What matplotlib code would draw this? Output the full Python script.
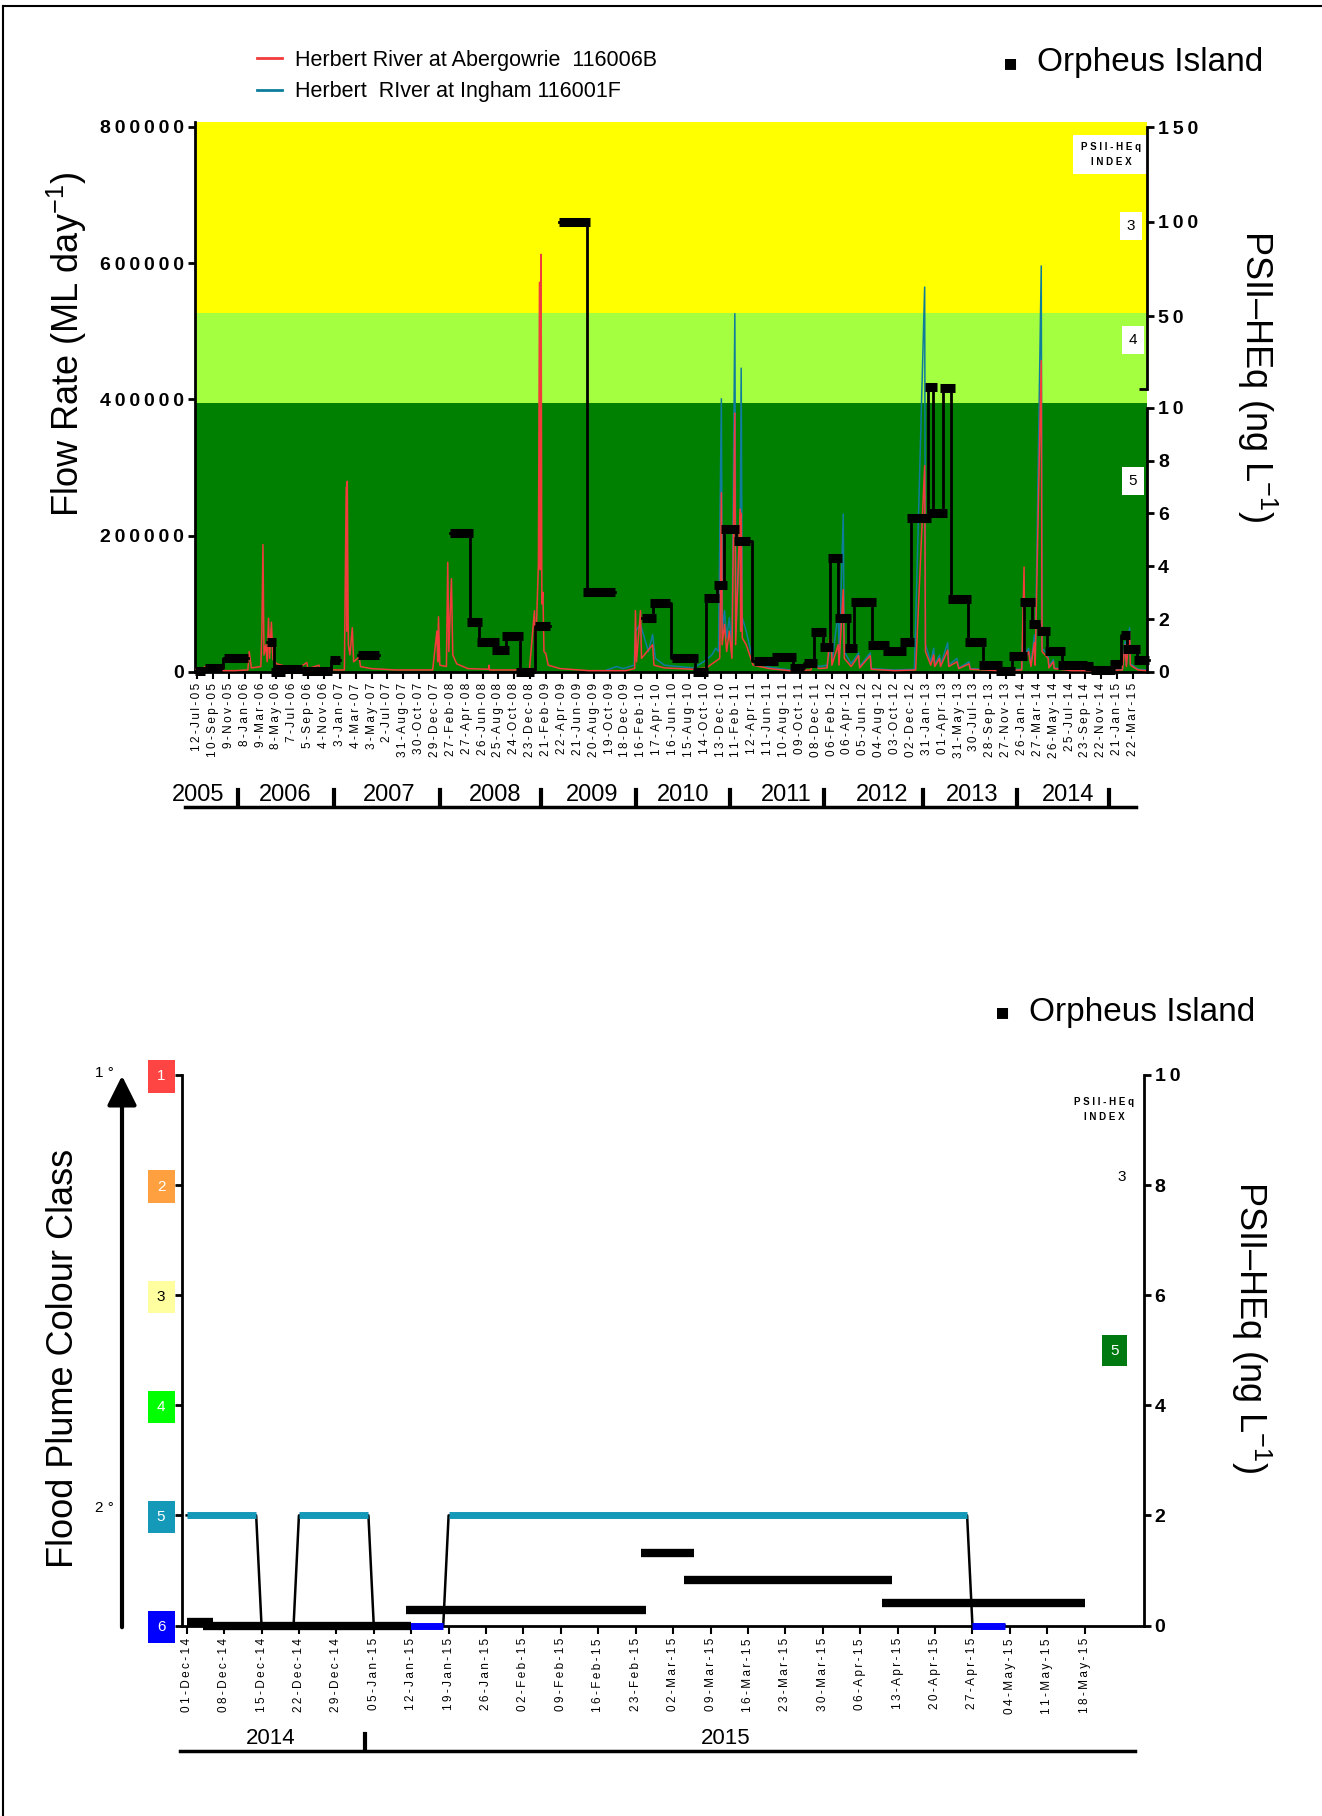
import numpy as np
import pandas as pd
import matplotlib
matplotlib.use("Agg")
import matplotlib.pyplot as plt
from matplotlib.lines import Line2D
from matplotlib.patches import FancyArrowPatch

plt.rcParams['font.family'] = ['Liberation Sans', 'DejaVu Sans']
plt.rcParams['mathtext.fontset'] = 'custom'
plt.rcParams['mathtext.rm'] = 'Liberation Sans'
plt.rcParams['mathtext.it'] = 'Liberation Sans:italic'
plt.rcParams['mathtext.bf'] = 'Liberation Sans:bold'

# ---------------- top chart data ----------------
top_ticks = ["12-Jul-05", "10-Sep-05", "9-Nov-05", "8-Jan-06", "9-Mar-06", "8-May-06",
             "7-Jul-06", "5-Sep-06", "4-Nov-06", "3-Jan-07", "4-Mar-07", "3-May-07",
             "2-Jul-07", "31-Aug-07", "30-Oct-07", "29-Dec-07", "27-Feb-08", "27-Apr-08",
             "26-Jun-08", "25-Aug-08", "24-Oct-08", "23-Dec-08", "21-Feb-09", "22-Apr-09",
             "21-Jun-09", "20-Aug-09", "19-Oct-09", "18-Dec-09", "16-Feb-10", "17-Apr-10",
             "16-Jun-10", "15-Aug-10", "14-Oct-10", "13-Dec-10", "11-Feb-11", "12-Apr-11",
             "11-Jun-11", "10-Aug-11", "09-Oct-11", "08-Dec-11", "06-Feb-12", "06-Apr-12",
             "05-Jun-12", "04-Aug-12", "03-Oct-12", "02-Dec-12", "31-Jan-13", "01-Apr-13",
             "31-May-13", "30-Jul-13", "28-Sep-13", "27-Nov-13", "26-Jan-14", "27-Mar-14",
             "26-May-14", "25-Jul-14", "23-Sep-14", "22-Nov-14", "21-Jan-15", "22-Mar-15"]

# Herbert River at Abergowrie (ML/day)
red_dates = ["2005-07-05", "2005-08-01", "2005-08-10", "2005-08-20", "2005-10-15", "2005-12-01",
             "2006-01-20", "2006-01-25", "2006-02-02", "2006-03-10", "2006-03-14", "2006-03-18",
             "2006-03-22", "2006-03-29", "2006-04-03", "2006-04-08", "2006-04-12", "2006-04-19",
             "2006-04-25", "2006-05-10", "2006-06-15", "2006-08-01", "2006-08-31", "2006-09-04",
             "2006-10-16", "2006-10-20", "2006-12-20", "2007-01-20", "2007-01-27", "2007-01-29",
             "2007-01-31", "2007-02-04", "2007-02-10", "2007-02-19", "2007-02-24", "2007-03-17",
             "2007-03-22", "2007-05-01", "2007-08-01", "2007-12-20", "2008-01-05", "2008-01-08",
             "2008-01-11", "2008-01-16", "2008-02-10", "2008-02-15", "2008-02-19", "2008-02-29",
             "2008-03-05", "2008-03-20", "2008-05-01", "2008-07-18", "2008-07-20", "2008-07-22",
             "2008-12-20", "2009-01-08", "2009-01-12", "2009-01-23", "2009-01-27", "2009-01-30",
             "2009-02-02", "2009-02-05", "2009-02-09", "2009-02-13", "2009-02-20", "2009-03-01",
             "2009-04-15", "2009-08-01", "2009-12-20", "2010-01-22", "2010-01-25", "2010-01-29",
             "2010-02-13", "2010-02-17", "2010-03-31", "2010-04-05", "2010-05-15", "2010-09-01",
             "2010-10-20", "2010-12-10", "2010-12-16", "2010-12-19", "2010-12-28", "2011-01-05",
             "2011-01-15", "2011-01-25", "2011-02-05", "2011-02-08", "2011-02-25", "2011-02-27",
             "2011-03-01", "2011-03-05", "2011-03-20", "2011-04-15", "2011-06-15", "2011-09-01",
             "2011-11-20", "2011-11-25", "2011-12-20", "2012-01-20", "2012-02-04", "2012-02-07",
             "2012-03-02", "2012-03-05", "2012-03-21", "2012-03-25", "2012-04-20", "2012-05-18",
             "2012-05-22", "2012-07-01", "2012-07-05", "2012-10-01", "2012-12-20", "2013-01-23",
             "2013-01-26", "2013-02-15", "2013-02-26", "2013-03-02", "2013-03-20", "2013-03-24",
             "2013-04-20", "2013-04-24", "2013-05-25", "2013-06-01", "2013-07-10", "2013-07-14",
             "2013-11-01", "2014-01-25", "2014-02-03", "2014-02-06", "2014-02-20", "2014-03-01",
             "2014-03-14", "2014-03-17", "2014-04-09", "2014-04-12", "2014-05-05", "2014-05-08",
             "2014-05-25", "2014-05-28", "2014-08-01", "2014-12-01", "2015-02-10", "2015-02-20",
             "2015-02-25", "2015-03-09", "2015-03-12", "2015-04-10", "2015-05-14"]
red_flow = [4000, 3000, 8000, 3000, 2000, 2000,
            3000, 30000, 6000, 8000, 60000, 187000,
            25000, 40000, 15000, 79000, 20000, 73000,
            18000, 12000, 8000, 6000, 14000, 5000,
            10000, 4000, 3000, 3000, 271000, 60000,
            280000, 40000, 25000, 65000, 15000, 22000,
            8000, 5000, 3000, 3000, 60000, 15000,
            81000, 10000, 8000, 161000, 30000, 137000,
            25000, 12000, 5000, 4000, 10000, 3000,
            3000, 90000, 20000, 160000, 572000, 150000,
            613000, 100000, 117000, 30000, 27000, 10000,
            5000, 2000, 2000, 5000, 90000, 15000,
            90000, 20000, 40000, 10000, 6000, 4000,
            6000, 20000, 263000, 40000, 70000, 30000,
            60000, 20000, 380000, 40000, 239000, 60000,
            233000, 50000, 40000, 10000, 5000, 2000,
            3000, 12000, 5000, 6000, 73000, 10000,
            40000, 10000, 121000, 20000, 8000, 24000,
            6000, 24000, 4000, 2000, 3000, 303000,
            30000, 10000, 25000, 8000, 20000, 8000,
            32000, 8000, 15000, 5000, 12000, 4000,
            2000, 3000, 154000, 20000, 30000, 8000,
            43000, 10000, 457000, 30000, 20000, 6000,
            15000, 5000, 2000, 2000, 3000, 40000,
            8000, 59000, 10000, 3000, 2000]

# Herbert River at Ingham (ML/day)
blue_dates = ["2009-10-09", "2009-11-15", "2009-12-10", "2010-01-20", "2010-01-25", "2010-02-13",
              "2010-03-15", "2010-03-31", "2010-04-10", "2010-05-15", "2010-09-01", "2010-10-10",
              "2010-11-10", "2010-11-25", "2010-12-05", "2010-12-16", "2010-12-20", "2010-12-28",
              "2011-01-05", "2011-01-15", "2011-01-25", "2011-02-05", "2011-02-09", "2011-02-25",
              "2011-03-01", "2011-03-05", "2011-03-20", "2011-04-15", "2011-06-15", "2011-09-01",
              "2011-11-25", "2011-12-20", "2012-01-20", "2012-02-04", "2012-02-08", "2012-03-02",
              "2012-03-06", "2012-03-21", "2012-03-25", "2012-04-20", "2012-05-18", "2012-05-22",
              "2012-07-01", "2012-07-05", "2012-10-01", "2012-12-15", "2013-01-23", "2013-01-26",
              "2013-02-15", "2013-02-26", "2013-03-02", "2013-03-20", "2013-03-24", "2013-04-20",
              "2013-04-24", "2013-05-25", "2013-06-01", "2013-07-10", "2013-07-14", "2013-11-01",
              "2014-01-25", "2014-02-03", "2014-02-06", "2014-02-20", "2014-03-01", "2014-03-14",
              "2014-03-17", "2014-04-09", "2014-04-12", "2014-05-05", "2014-05-08", "2014-05-25",
              "2014-05-28", "2014-08-01", "2014-12-01", "2015-02-10", "2015-02-20", "2015-02-25",
              "2015-03-09", "2015-03-12", "2015-04-10", "2015-05-14"]
blue_flow = [3000, 8000, 5000, 10000, 60000, 70000,
             30000, 55000, 20000, 10000, 6000, 15000,
             25000, 35000, 30000, 401000, 60000, 90000,
             50000, 80000, 35000, 526000, 60000, 200000,
             446000, 80000, 60000, 15000, 7000, 3000,
             15000, 8000, 10000, 43000, 15000, 89000,
             20000, 232000, 30000, 12000, 28000, 8000,
             28000, 5000, 3000, 4000, 565000, 40000,
             15000, 35000, 10000, 25000, 10000, 43000,
             10000, 20000, 6000, 15000, 5000, 3000,
             4000, 100000, 25000, 35000, 10000, 54000,
             12000, 596000, 35000, 25000, 8000, 18000,
             6000, 3000, 3000, 4000, 45000, 10000,
             65000, 12000, 4000, 3000]

# PSII-HEq (ng/L) per passive sampler deployment
psii_start = ["2005-07-05", "2005-08-10", "2005-10-21", "2006-04-02", "2006-04-19", "2006-05-04",
              "2006-08-13", "2006-11-25", "2007-03-13", "2008-02-24", "2008-04-26", "2008-06-03",
              "2008-07-31", "2008-09-09", "2008-10-31", "2009-01-11", "2009-04-12", "2009-07-12",
              "2010-02-20", "2010-03-20", "2010-06-11", "2010-08-30", "2010-10-12", "2010-11-20",
              "2010-12-13", "2011-01-31", "2011-04-17", "2011-06-26", "2011-08-31", "2011-10-23",
              "2011-11-19", "2011-12-24", "2012-01-22", "2012-02-19", "2012-03-27", "2012-04-21",
              "2012-06-23", "2012-08-18", "2012-10-20", "2012-11-17", "2013-01-26", "2013-02-10",
              "2013-03-22", "2013-04-20", "2013-06-24", "2013-08-17", "2013-10-21", "2013-12-07",
              "2014-01-20", "2014-02-20", "2014-03-24", "2014-04-22", "2014-06-13", "2014-09-21",
              "2014-10-14", "2014-12-24", "2015-02-06", "2015-02-12", "2015-03-26"]
psii_end = ["2005-08-10", "2005-10-14", "2006-01-20", "2006-05-07", "2006-06-09", "2006-08-13",
            "2006-12-05", "2007-01-04", "2007-06-01", "2008-05-22", "2008-06-25", "2008-08-27",
            "2008-10-02", "2008-11-26", "2009-01-08", "2009-03-07", "2009-08-05", "2009-11-07",
            "2010-04-13", "2010-06-04", "2010-09-17", "2010-10-26", "2010-12-08", "2011-01-06",
            "2011-02-19", "2011-04-03", "2011-07-17", "2011-09-25", "2011-10-23", "2011-12-12",
            "2012-01-16", "2012-02-12", "2012-03-15", "2012-04-21", "2012-05-13", "2012-07-22",
            "2012-09-10", "2012-11-14", "2012-12-15", "2013-02-16", "2013-03-10", "2013-04-16",
            "2013-05-18", "2013-07-16", "2013-09-13", "2013-11-12", "2014-01-01", "2014-02-14",
            "2014-03-15", "2014-04-05", "2014-05-13", "2014-07-08", "2014-09-28", "2014-10-23",
            "2015-01-12", "2015-02-06", "2015-03-12", "2015-04-16", "2015-05-20"]
psii_val = [0.05, 0.16, 0.54, 1.13, 0.0, 0.1,
            0.05, 0.45, 0.64, 5.26, 1.9, 1.15,
            0.82, 1.36, 0.0, 1.73, 100.0, 3.03,
            2.04, 2.62, 0.54, 0.0, 2.8, 3.3,
            5.4, 4.95, 0.4, 0.56, 0.17, 0.35,
            1.53, 0.94, 4.33, 2.06, 0.9, 2.64,
            1.04, 0.79, 1.15, 5.83, 12.4, 6.0,
            12.3, 2.75, 1.14, 0.28, 0.03, 0.61,
            2.64, 1.83, 1.56, 0.81, 0.28, 0.21,
            0.07, 0.32, 1.39, 0.86, 0.46]

year_labels_top = ["2005", "2006", "2007", "2008", "2009", "2010", "2011", "2012", "2013", "2014"]

# ---------------- bottom chart data ----------------
bot_ticks = ["01-Dec-14", "08-Dec-14", "15-Dec-14", "22-Dec-14", "29-Dec-14", "05-Jan-15",
             "12-Jan-15", "19-Jan-15", "26-Jan-15", "02-Feb-15", "09-Feb-15", "16-Feb-15",
             "23-Feb-15", "02-Mar-15", "09-Mar-15", "16-Mar-15", "23-Mar-15", "30-Mar-15",
             "06-Apr-15", "13-Apr-15", "20-Apr-15", "27-Apr-15", "04-May-15", "11-May-15",
             "18-May-15"]

plume_start = ["2014-12-01", "2014-12-15", "2014-12-22", "2015-01-05", "2015-01-19", "2015-04-27"]
plume_end = ["2014-12-14", "2014-12-21", "2015-01-04", "2015-01-18", "2015-04-26", "2015-05-03"]
plume_class = [5, 6, 5, 6, 5, 6]

psii2_start = ["2014-12-01", "2014-12-04", "2015-01-11", "2015-02-24", "2015-03-04", "2015-04-10"]
psii2_end = ["2014-12-06", "2015-01-12", "2015-02-25", "2015-03-06", "2015-04-12", "2015-05-18"]
psii2_val = [0.06, 0.0, 0.28, 1.32, 0.82, 0.40]

class_labels = ["1", "2", "3", "4", "5", "6"]
class_colors = ["#ff4444", "#ffa040", "#ffffa0", "#00ff00", "#1599b8", "#0000ff"]
class_text = ["white", "white", "black", "white", "white", "white"]

year_labels_bot = ["2014", "2015"]


def spaced(s, sep=" "):
    return sep.join(s)


W, H = 1322.0, 1816.0


def fx(px):
    return px / W


def fy(py):
    return 1 - py / H


# broken right axis: 0-10 on the lower part, 10-150 compressed above
def psii_fwd(v):
    v = np.asarray(v, dtype=float)
    return np.where(v <= 10, v * 38780.0, 411200.0 + (v - 10) * 2773.0)


def psii_inv(y):
    y = np.asarray(y, dtype=float)
    return np.where(y <= 387800.0, y / 38780.0,
                    10 + np.clip(y - 411200.0, 0, None) / 2773.0)


fig = plt.figure(figsize=(13.22, 18.16), dpi=100)
fig.patch.set_facecolor("white")

# frame of the original page
fig.add_artist(Line2D([fx(3), fx(3)], [0, fy(6)], color="k", lw=1.5, transform=fig.transFigure))
fig.add_artist(Line2D([fx(3), 1], [fy(6), fy(6)], color="k", lw=1.5, transform=fig.transFigure))

TS = "\u2009"

# ================= TOP =================
ax = fig.add_axes([fx(195), fy(672), fx(1147) - fx(195), fy(122) - fy(672)])
ymax = 807300
ax.set_ylim(0, ymax)
ax.set_xlim(pd.Timestamp("2005-07-04"), pd.Timestamp("2015-05-14"))
ax.axhspan(0, 395000, color="#008000", zorder=0, lw=0)
ax.axhspan(395000, 527000, color="#a3ff40", zorder=0, lw=0)
ax.axhspan(527000, ymax, color="#ffff00", zorder=0, lw=0)

l_blue, = ax.plot(pd.to_datetime(blue_dates), blue_flow, color="#0e7d9c", lw=1.1, zorder=2)
l_red, = ax.plot(pd.to_datetime(red_dates), red_flow, color="#f23c3c", lw=1.1, zorder=3)

tick_pos = pd.to_datetime(top_ticks, format="%d-%b-%y")
ax.set_xticks(tick_pos)
ax.set_xticklabels([spaced(t, TS) for t in top_ticks], rotation=90, fontsize=8.5)
ax.tick_params(axis="x", direction="out", length=5, width=1.5, pad=3)
ax.set_yticks([0, 200000, 400000, 600000, 800000])
ax.set_yticklabels([spaced(str(v), TS) for v in [0, 200000, 400000, 600000, 800000]],
                   fontsize=14, fontweight="bold")
ax.tick_params(axis="y", direction="out", length=5, width=2, pad=3)
for s in ["top", "right"]:
    ax.spines[s].set_visible(False)
ax.spines["left"].set_linewidth(2)
ax.spines["bottom"].set_linewidth(2)
fig.text(fx(67), fy(344), "Flow Rate (ML day$^{-1}$)", rotation=90, fontsize=26,
         ha="center", va="center")

ax_lo = ax.twinx()
ax_hi = ax.twinx()
for a in (ax_lo, ax_hi):
    a.set_yscale("function", functions=(psii_fwd, psii_inv))
    a.set_ylim(0, float(psii_inv(ymax)))
    for s in ["top", "left", "bottom"]:
        a.spines[s].set_visible(False)
    a.spines["right"].set_linewidth(2)
    a.tick_params(axis="y", direction="out", length=5, width=2, pad=3)
ax_lo.spines["right"].set_bounds(0, 10)
ax_lo.set_yticks([0, 2, 4, 6, 8, 10])
ax_lo.set_yticklabels([spaced(str(v), TS) for v in [0, 2, 4, 6, 8, 10]], fontsize=14,
                      fontweight="bold")
ax_hi.spines["right"].set_bounds(11.4, 150)
ax_hi.set_yticks([50, 100, 150])
ax_hi.set_yticklabels([spaced(str(v), TS) for v in [50, 100, 150]], fontsize=14, fontweight="bold")
ax_hi.set_yticks([11.4], minor=True)
ax_hi.tick_params(axis="y", which="minor", direction="in", length=6, width=2)
ax_hi.set_yticklabels([""], minor=True)

# PSII-HEq deployments: thick bars, thin vertical connectors between consecutive ones
ps = pd.to_datetime(psii_start)
pe = pd.to_datetime(psii_end)
xs, ys = [ps[0]], [psii_val[0]]
for i in range(1, len(psii_val)):
    if (ps[i] - pe[i - 1]).days > 30:
        xs.append(pe[i - 1])
        ys.append(psii_val[i - 1])
        ax_lo.plot(xs, ys, color="k", lw=2, zorder=4, clip_on=False)
        xs, ys = [ps[i]], [psii_val[i]]
        continue
    mid = pe[i - 1] + (ps[i] - pe[i - 1]) / 2
    xs += [mid, mid]
    ys += [psii_val[i - 1], psii_val[i]]
xs.append(pe[-1])
ys.append(psii_val[-1])
ax_lo.plot(xs, ys, color="k", lw=2, zorder=4, clip_on=False)
for s0, e0, v in zip(ps, pe, psii_val):
    ax_lo.plot([s0, e0], [v, v], color="k", lw=6.5, solid_capstyle="butt", zorder=5, clip_on=False)

# index boxes
ax_lo.text(0.962, 0.941, "P S I I - H E q\nI N D E X", transform=ax_lo.transAxes, fontsize=7,
           fontweight="bold", ha="center", va="center", linespacing=1.6,
           bbox=dict(boxstyle="square,pad=0.75", fc="white", ec="none"), zorder=10)
for lab, (xa, ya) in zip(["3", "4", "5"], [(0.983, 0.811), (0.985, 0.604), (0.985, 0.347)]):
    ax_lo.text(xa, ya, lab, transform=ax_lo.transAxes, fontsize=11, ha="center", va="center",
               bbox=dict(boxstyle="square,pad=0.45", fc="white", ec="none"), zorder=10)

fig.text(fx(1257), fy(376), "PSII\u2013HEq (ng L$^{-1}$)", rotation=-90, fontsize=26,
         ha="center", va="center")

fig.legend([l_red, l_blue], ["Herbert River at Abergowrie  116006B", "Herbert  RIver at Ingham 116001F"],
           loc="center left", bbox_to_anchor=(fx(257), fy(76)), frameon=False, fontsize=15.5,
           handlelength=1.15, handletextpad=0.6, labelspacing=0.5, borderpad=0, borderaxespad=0)
for l in fig.legends[0].get_lines():
    l.set_linewidth(2)

fig.text(fx(1011), fy(63), "\u25aa", fontsize=16, ha="center", va="center", family="DejaVu Sans")
fig.text(fx(1037), fy(63), "Orpheus Island", fontsize=24, ha="left", va="center")

# year row under top chart
yr_x = [171, 246, 336, 427, 511, 590, 679, 761, 839, 922]
sep_x = [205, 288, 380, 467, 549, 630, 711, 797, 878, 957]
for yl, xx in zip(year_labels_top, yr_x):
    fig.text(fx(xx * 1.1586), fy(795), yl, fontsize=17, ha="center", va="center")
for xx in sep_x:
    fig.add_artist(Line2D([fx(xx * 1.1586)] * 2, [fy(790), fy(806)], color="k", lw=3,
                          transform=fig.transFigure))
fig.add_artist(Line2D([fx(185), fx(1136)], [fy(807.5), fy(807.5)], color="k", lw=2.5,
                      transform=fig.transFigure))

# ================= BOTTOM =================
axb = fig.add_axes([fx(182), fy(1625.5), fx(1143.5) - fx(182), fy(1075) - fy(1625.5)])
axb.set_ylim(6, 1)
axb.set_xlim(pd.Timestamp("2014-11-30 03:00"), pd.Timestamp("2015-05-29"))
for s in ["top", "right"]:
    axb.spines[s].set_visible(False)
axb.spines["left"].set_linewidth(2)
axb.spines["bottom"].set_linewidth(2)

bt = pd.to_datetime(bot_ticks, format="%d-%b-%y")
axb.set_xticks(bt)
axb.set_xticklabels([spaced(t, TS) for t in bot_ticks], rotation=90, fontsize=8.5)
axb.tick_params(axis="x", direction="out", length=6, width=1.5, pad=3)

axb.set_yticks(range(1, 7))
axb.set_yticklabels(class_labels, fontsize=11)
axb.tick_params(axis="y", direction="out", length=5, width=2, pad=7)
for tl, c, tc in zip(axb.get_yticklabels(), class_colors, class_text):
    tl.set_color(tc)
    tl.set_bbox(dict(boxstyle="square,pad=0.6", fc=c, ec="none"))

cs = pd.to_datetime(plume_start)
ce = pd.to_datetime(plume_end)
xs, ys = [], []
for s0, e0, c in zip(cs, ce, plume_class):
    xs += [s0, e0]
    ys += [c, c]
axb.plot(xs, ys, color="k", lw=1.8, zorder=3, clip_on=False)
for s0, e0, c in zip(cs, ce, plume_class):
    axb.plot([s0, e0], [c, c], color=class_colors[c - 1], lw=5, solid_capstyle="butt",
             zorder=4, clip_on=False)

axb2 = axb.twinx()
axb2.set_ylim(0, 10)
for s in ["top", "left", "bottom"]:
    axb2.spines[s].set_visible(False)
axb2.spines["right"].set_linewidth(2)
axb2.set_yticks([0, 2, 4, 6, 8, 10])
axb2.set_yticklabels([spaced(str(v), TS) for v in [0, 2, 4, 6, 8, 10]], fontsize=14,
                     fontweight="bold")
axb2.tick_params(axis="y", direction="out", length=5, width=2, pad=3)
for s0, e0, v in zip(pd.to_datetime(psii2_start), pd.to_datetime(psii2_end), psii2_val):
    axb2.plot([s0, e0], [v, v], color="k", lw=6, solid_capstyle="butt", zorder=5, clip_on=False)

axb2.text(0.959, 0.937, "P S I I - H E q\nI N D E X", transform=axb2.transAxes, fontsize=7,
          fontweight="bold", ha="center", va="center", linespacing=1.6)
axb2.text(0.977, 0.815, "3", transform=axb2.transAxes, fontsize=11, ha="center", va="center")
axb2.text(0.970, 0.499, "5", transform=axb2.transAxes, fontsize=11, ha="center", va="center",
          color="white", bbox=dict(boxstyle="square,pad=0.55", fc="#007a10", ec="none"))

fig.text(fx(1251), fy(1327), "PSII\u2013HEq (ng L$^{-1}$)", rotation=-90, fontsize=26,
         ha="center", va="center")
fig.text(fx(64), fy(1358), "Flood Plume Colour Class", rotation=90, fontsize=26,
         ha="center", va="center")

fig.add_artist(FancyArrowPatch((fx(122), fy(1630)), (fx(122), fy(1073)), transform=fig.transFigure,
                               arrowstyle="-|>,head_length=0.9,head_width=0.45", mutation_scale=20,
                               lw=3, color="k"))
fig.text(fx(104), fy(1073), "1 \u00b0", fontsize=11, ha="center", va="center")
fig.text(fx(104), fy(1508), "2 \u00b0", fontsize=11, ha="center", va="center")

fig.text(fx(1003), fy(1012), "\u25aa", fontsize=16, ha="center", va="center", family="DejaVu Sans")
fig.text(fx(1029), fy(1012), "Orpheus Island", fontsize=24, ha="left", va="center")

for yl, xx in zip(year_labels_bot, [234, 626]):
    fig.text(fx(xx * 1.1586), fy(1738), yl, fontsize=16, ha="center", va="center")
fig.add_artist(Line2D([fx(365)] * 2, [fy(1734), fy(1749)], color="k", lw=3,
                      transform=fig.transFigure))
fig.add_artist(Line2D([fx(180), fx(1135)], [fy(1751), fy(1751)], color="k", lw=2.5,
                      transform=fig.transFigure))

fig.savefig("out.png", dpi=100)
